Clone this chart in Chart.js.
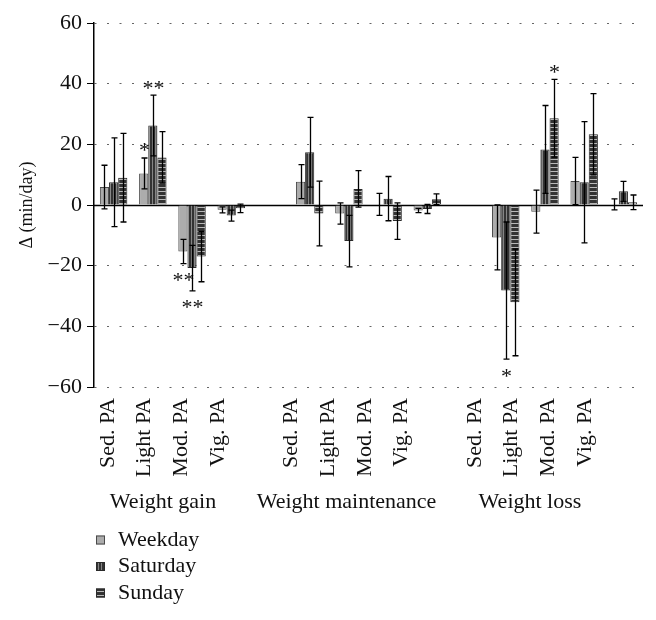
<!DOCTYPE html>
<html>
<head>
<meta charset="utf-8">
<script src="https://cdn.jsdelivr.net/npm/chart.js@4.4.1/dist/chart.umd.min.js"></script>
<style>
  html, body { margin: 0; padding: 0; background: #fff; }
  canvas { display: block; }
</style>
</head>
<body>
<canvas id="grafico" width="656" height="620"></canvas>
<script>
// categorias (14 huecos: 4 + vacio + 4 + vacio + 4)
const categorias = ['Sed. PA', 'Light PA', 'Mod. PA', 'Vig. PA', '',
                    'Sed. PA', 'Light PA', 'Mod. PA', 'Vig. PA', '',
                    'Sed. PA', 'Light PA', 'Mod. PA', 'Vig. PA'];
const grupos = ['Weight gain', 'Weight maintenance', 'Weight loss'];
const series = ['Weekday', 'Saturday', 'Sunday'];

// medias (min/day)
const weekday  = [5.9, 10.4, -15.3, -1.6, null, 7.7, -2.8, 0.2, -1.8, null, -10.7, -2.2, 7.9, 0.2];
const saturday = [7.5, 26.2, -20.8, -3.5, null, 17.4, -11.9, 2.1, -1.3, null, -28.2, 18.3, 7.5, 4.5];
const sunday   = [9.0, 15.7, -17.0, -1.1, null, -2.8, 5.3, -5.3, 1.9, null, -32.1, 28.6, 23.3, 0.9];

// barras de error (+/-)
const weekdayErr  = [7.2, 5.1, 4.0, 1.0, null, 5.6, 3.5, 3.6, 0.7, null, 10.7, 7.1, 7.8, 1.8];
const saturdayErr = [14.6, 10.0, 7.5, 1.8, null, 11.5, 8.5, 7.3, 1.5, null, 22.6, 14.5, 20.0, 3.3];
const sundayErr   = [14.6, 8.5, 8.3, 1.4, null, 10.7, 6.0, 6.0, 1.8, null, 17.6, 12.8, 13.4, 2.4];

// significancia
const weekdaySig  = ['', '*', '**', '', '', '', '', '', '', '', '', '', '', ''];
const saturdaySig = ['', '**', '**', '', '', '', '', '', '', '', '*', '', '', ''];
const sundaySig   = ['', '', '', '', '', '', '', '', '', '', '', '*', '', ''];

const yTicks = [-60, -40, -20, 0, 20, 40, 60];

const fuente = "'Liberation Serif', 'Times New Roman', serif";

function rayas(vertical) {
    const c = document.createElement('canvas');
    c.width = vertical ? 3 : 1;
    c.height = vertical ? 1 : 4;
    const g = c.getContext('2d');
    g.fillStyle = '#333';
    g.fillRect(0, 0, c.width, c.height);
    g.fillStyle = vertical ? '#858585' : '#b8b8b8';
    if (vertical) g.fillRect(2, 0, 1, 1);
    else g.fillRect(0, 3, 1, 1);
    return document.createElement('canvas').getContext('2d').createPattern(c, 'repeat');
}

const errores = [weekdayErr, saturdayErr, sundayErr];
const marcas = [weekdaySig, saturdaySig, sundaySig];

const pluginCero = {
    id: 'lineaCero',
    beforeDatasetsDraw(chart) {
        const {ctx, chartArea, scales} = chart;
        const y = Math.round(scales.y.getPixelForValue(0)) + 0.5;
        ctx.save();
        ctx.strokeStyle = '#000';
        ctx.lineWidth = 1.5;
        ctx.beginPath();
        ctx.moveTo(chartArea.left, y);
        ctx.lineTo(chartArea.right, y);
        ctx.stroke();
        ctx.restore();
    }
};

const pluginErrores = {
    id: 'errores',
    afterDatasetsDraw(chart) {
        const {ctx, scales} = chart;
        ctx.save();
        ctx.strokeStyle = '#000';
        ctx.fillStyle = '#111';
        ctx.lineWidth = 1.3;
        chart.data.datasets.forEach((ds, d) => {
            const meta = chart.getDatasetMeta(d);
            meta.data.forEach((bar, i) => {
                const v = ds.data[i];
                const e = errores[d][i];
                if (v === null || e === null) return;
                const x = Math.round(bar.x) + 0.5;
                const y1 = scales.y.getPixelForValue(v + e);
                const y2 = scales.y.getPixelForValue(v - e);
                ctx.beginPath();
                ctx.moveTo(x, y1); ctx.lineTo(x, y2);
                ctx.moveTo(x - 3, y1); ctx.lineTo(x + 3, y1);
                ctx.moveTo(x - 3, y2); ctx.lineTo(x + 3, y2);
                ctx.stroke();

                const m = marcas[d][i];
                if (m) {
                    const size = 22;
                    ctx.font = size + 'px ' + fuente;
                    ctx.textAlign = 'center';
                    ctx.textBaseline = 'alphabetic';
                    const yc = v >= 0 ? y1 - 12 : y2 + 12;
                    ctx.fillText(m, x, yc + size * 0.52);
                }
            });
        });
        ctx.restore();
    }
};

const pluginLeyenda = {
    id: 'leyenda',
    afterDraw(chart) {
        const {ctx} = chart;
        const top = chart.scales.xg.bottom;
        ctx.save();
        ctx.font = '22px ' + fuente;
        ctx.textAlign = 'left';
        ctx.textBaseline = 'middle';
        chart.data.datasets.forEach((ds, i) => {
            const yc = top + 18 + i * 26.5;
            ctx.fillStyle = ds.backgroundColor;
            ctx.fillRect(96, yc - 4.5, 9, 9);
            ctx.strokeStyle = ds.borderColor;
            ctx.lineWidth = 1;
            ctx.strokeRect(96.5, yc - 4, 8, 8);
            ctx.fillStyle = '#111';
            ctx.fillText(ds.label, 118, yc);
        });
        ctx.restore();
    }
};

const ctx = document.getElementById('grafico').getContext('2d');
new Chart(ctx, {
    type: 'bar',
    data: {
        labels: categorias,
        datasets: [
            { label: series[0], data: weekday, backgroundColor: '#acacac', borderColor: '#4a4a4a', borderWidth: 1 },
            { label: series[1], data: saturday, backgroundColor: rayas(true), borderColor: '#2a2a2a', borderWidth: 1 },
            { label: series[2], data: sunday, backgroundColor: rayas(false), borderColor: '#2a2a2a', borderWidth: 1 }
        ]
    },
    options: {
        responsive: false,
        animation: false,
        devicePixelRatio: 1,
        layout: { padding: { top: 23, right: 13, bottom: 98, left: 0 } },
        datasets: { bar: { categoryPercentage: 0.7, barPercentage: 1.0, skipNull: false } },
        plugins: { legend: { display: false }, tooltip: { enabled: false } },
        scales: {
            x: { display: false },
            xl: {
                type: 'linear',
                position: 'bottom',
                weight: 1,
                offset: false,
                min: -0.3816,
                max: 14.58,
                grid: { display: false, offset: false },
                border: { display: false },
                afterBuildTicks: (axis) => {
                    axis.ticks = categorias.map((c, i) => ({ value: i })).filter((t, i) => categorias[i] !== '');
                },
                afterFit: (axis) => { axis.height = 94; },
                ticks: {
                    autoSkip: false,
                    minRotation: 90,
                    maxRotation: 90,
                    padding: 3,
                    color: '#111',
                    font: { family: fuente, size: 22 },
                    callback: (v) => categorias[v]
                }
            },
            xg: {
                type: 'linear',
                position: 'bottom',
                weight: 2,
                offset: false,
                min: -0.3816,
                max: 14.58,
                grid: { display: false, offset: false },
                border: { display: false },
                afterBuildTicks: (axis) => {
                    axis.ticks = grupos.map((g, i) => ({ value: 1.5 + i * 5 }));
                },
                afterFit: (axis) => { axis.height = 41; },
                ticks: {
                    autoSkip: false,
                    maxRotation: 0,
                    padding: 0,
                    color: '#111',
                    font: { family: fuente, size: 22 },
                    callback: (v) => grupos[Math.round((v - 1.5) / 5)]
                }
            },
            y: {
                min: -60,
                max: 60,
                afterBuildTicks: (axis) => { axis.ticks = yTicks.map(v => ({ value: v })); },
                afterFit: (axis) => { axis.width = 94; },
                grid: {
                    color: (c) => c.tick && c.tick.value === 0 ? 'rgba(0,0,0,0)' : '#666',
                    lineWidth: 1,
                    tickColor: '#000',
                    tickLength: 7,
                    tickBorderDash: [],
                    tickWidth: 1
                },
                border: { display: true, color: '#000', width: 1.5, dash: [2, 10.5] },
                ticks: {
                    padding: 5,
                    color: '#111',
                    font: { family: fuente, size: 22 },
                    callback: (v) => v < 0 ? '\u2212' + Math.abs(v) : String(v)
                },
                title: {
                    display: true,
                    text: '\u0394 (min/day)',
                    color: '#111',
                    font: { family: fuente, size: 18 },
                    padding: { top: 16, bottom: 0 }
                }
            }
        }
    },
    plugins: [pluginCero, pluginErrores, pluginLeyenda]
});
</script>
</body>
</html>
